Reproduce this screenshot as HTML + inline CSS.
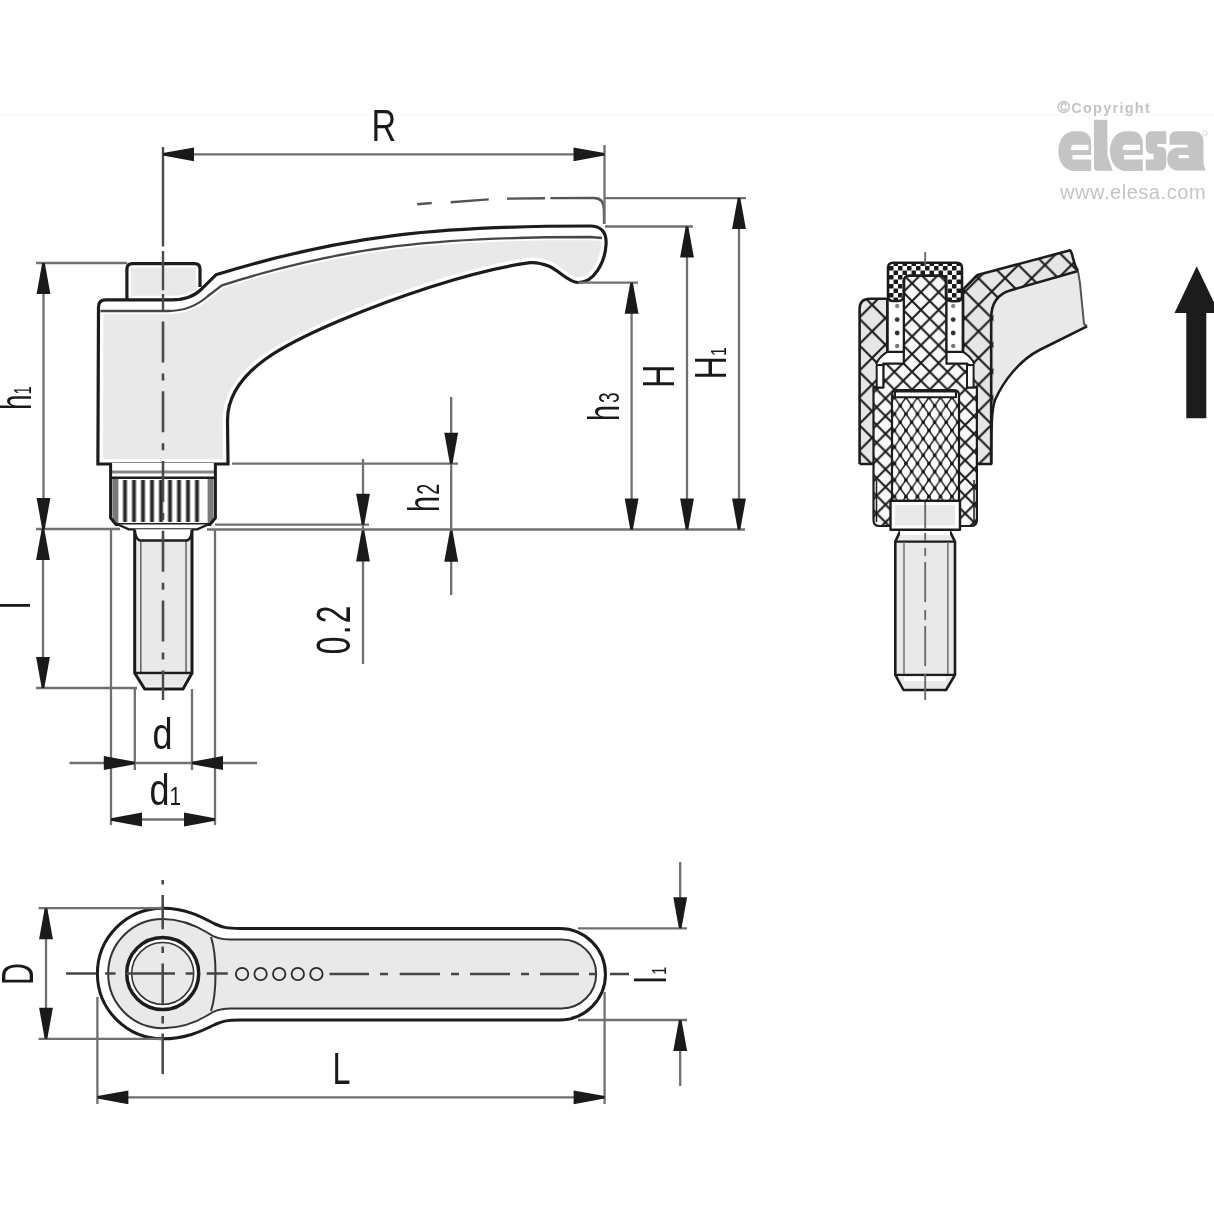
<!DOCTYPE html>
<html><head><meta charset="utf-8"><style>
html,body{margin:0;padding:0;background:#fff;width:1214px;height:1214px;overflow:hidden}
svg{display:block;filter:blur(0.45px)}
text{font-family:"Liberation Sans",sans-serif}
</style></head><body>
<svg width="1214" height="1214" viewBox="0 0 1214 1214">
<defs>
<pattern id="hB" patternUnits="userSpaceOnUse" width="26.6" height="26.6" patternTransform="translate(872.1,304.8)"><rect width="26.6" height="26.6" fill="#e6e6e6"/><path d="M-26.6,-26.6 L53.2,53.2 M0,-26.6 L53.2,26.6 M-26.6,0 L26.6,53.2 M53.2,-26.6 L-26.6,53.2 M26.6,-26.6 L-26.6,26.6 M53.2,0 L0,53.2" stroke="#1a1a1a" stroke-width="2.1"/></pattern>
<pattern id="hM" patternUnits="userSpaceOnUse" width="17.7" height="17.7" patternTransform="translate(920.9,292.2)"><rect width="17.7" height="17.7" fill="#f8f8f8"/><path d="M-17.7,-17.7 L35.4,35.4 M0,-17.7 L35.4,17.7 M-17.7,0 L17.7,35.4 M35.4,-17.7 L-17.7,35.4 M17.7,-17.7 L-17.7,17.7 M35.4,0 L0,35.4" stroke="#1a1a1a" stroke-width="2.0"/></pattern>
<pattern id="hS" patternUnits="userSpaceOnUse" width="11.5" height="16.5" patternTransform="translate(900.2,438.7)"><rect width="11.5" height="16.5" fill="#fff"/><path d="M-11.5,-16.5 L23,33 M0,-16.5 L23,16.5 M-11.5,0 L11.5,33 M23,-16.5 L-11.5,33 M11.5,-16.5 L-11.5,16.5 M23,0 L0,33" stroke="#1a1a1a" stroke-width="1.5"/><circle cx="0" cy="0" r="1.8" fill="#111"/><circle cx="11.5" cy="0" r="1.8" fill="#111"/><circle cx="0" cy="16.5" r="1.8" fill="#111"/><circle cx="11.5" cy="16.5" r="1.8" fill="#111"/><circle cx="5.75" cy="8.25" r="1.8" fill="#111"/></pattern>
<pattern id="hF" patternUnits="userSpaceOnUse" width="9" height="9" patternTransform="translate(889,266)"><rect width="9" height="9" fill="#fff"/><rect x="0" y="0" width="4.5" height="4.5" rx="0.6" fill="#1a1a1a"/><rect x="4.5" y="4.5" width="4.5" height="4.5" rx="0.6" fill="#1a1a1a"/></pattern>
</defs>

<rect x="0" y="114" width="1214" height="2" fill="#fbfbfb"/>
<!-- ============ SIDE VIEW ============ -->
<g id="side">
  <!-- body / lever -->
  <path d="M97.9,464 L98.5,307 Q98.5,299.8 105.5,299.8 L171.7,299.8 C182,299.8 194,297 202,288.6 L215.9,274.8 C346,234.5 440,226 590,226 C601,226 607,232 606,245 C605,262 594,283 578,282.5 C568,282 560,271 548.6,266 C540,262.6 535,262.3 530,262.6 C470,270.8 390,299.25 340,320.5 C290,341.75 227.5,370 227.5,420 L228,464 Z" fill="#e9e9e9" stroke="#fff" stroke-width="10"/>
  <!-- white highlight band -->
  <path d="M98.5,311 L167.8,311 C185,311 198,305 208,296 L222,285.3 C346,245.5 440,237 590,237 L603,238 L605,242 C606,233 601,226 590,226 C440,226 346,234.5 215.9,274.8 L202,288.6 C194,297 182,299.8 171.7,299.8 L105.5,299.8 Q98.5,299.8 98.5,307 Z" fill="#fff"/>
  <path d="M100.5,311 L167.8,311 C185,311 198,305 208,296 L222,285.3 C346,245.5 440,237 590,237 L602,238" fill="none" stroke="#fff" stroke-width="6"/>
  <path d="M100.5,311 L167.8,311 C185,311 198,305 208,296 L222,285.3 C346,245.5 440,237 590,237 L602,238" fill="none" stroke="#464646" stroke-width="2.3"/>
  <!-- cap -->
  <path d="M126.9,299.8 V269 Q126.9,263.6 132.5,263.6 H194.5 Q200,263.6 200,269 V289.5 C194,297 182,299.8 171.7,299.8 Z" fill="#e9e9e9" stroke="#fff" stroke-width="8"/>
  <path d="M126.9,299 L126.9,269 Q126.9,263.6 132.5,263.6 L194.5,263.6 Q200,263.6 200,269 L200,287" fill="none" stroke="#1c1c1c" stroke-width="3.2"/>
  <path d="M97.9,464 L98.5,307 Q98.5,299.8 105.5,299.8 L171.7,299.8 C182,299.8 194,297 202,288.6 L215.9,274.8 C346,234.5 440,226 590,226 C601,226 607,232 606,245 C605,262 594,283 578,282.5 C568,282 560,271 548.6,266 C540,262.6 535,262.3 530,262.6 C470,270.8 390,299.25 340,320.5 C290,341.75 227.5,370 227.5,420 L228,464 Z" fill="none" stroke="#1c1c1c" stroke-width="3.2"/>

  <!-- knurled ring -->
  <path d="M110.6,463 V518 L116,524.5 H210 L215.4,518 V463 Z" fill="#fff"/>
  <rect x="112.4" y="479" width="6" height="44" fill="#7a7a7a"/>
  <rect x="207.6" y="479" width="6" height="44" fill="#7a7a7a"/>
  <g stroke="#2a2a2a" stroke-width="2.9">
    <path d="M125,480 V522 M134,480 V522 M143,480 V522 M152,480 V522 M161,480 V522 M170,480 V522 M179,480 V522 M188,480 V522 M197,480 V522" stroke="#9a9a9a" stroke-width="5"/>
    <path d="M125,480 V522 M134,480 V522 M143,480 V522 M152,480 V522 M161,480 V522 M170,480 V522 M179,480 V522 M188,480 V522 M197,480 V522"/>
  </g>
  <path d="M112,471.9 H214" stroke="#858585" stroke-width="3"/>
  <path d="M112,477.8 H214" stroke="#1c1c1c" stroke-width="2.4"/>
  <path d="M110.6,463 V518 L116,524.5 H210 L215.4,518 V463" fill="none" stroke="#1c1c1c" stroke-width="3"/>
  <path d="M118,524.5 L128.7,529.4 H197.3 L208,524.5" fill="#fff" stroke="#1c1c1c" stroke-width="2.4"/>

  <!-- stud -->
  <path d="M134.7,529.4 V673 L144.7,689 H183 L192,673 V529.4 Z" fill="#e9e9e9"/>
  <path d="M134.7,529.4 V531 Q136,540.5 141,540.5 H186 Q191,540.5 192,531 V529.4 Z" fill="#fff"/>
  <path d="M134.7,673 L144.7,689 H183 L192,673 Z" fill="#fff" stroke="none"/>
  <path d="M137,675 L145.5,686.5 H182 L189.5,675 Z" fill="#e9e9e9"/>
  <path d="M140.8,541 V673 M186,541 V673" stroke="#6a6a6a" stroke-width="1.6"/>
  <path d="M134.7,531 Q136,540.5 141,540.5 H186 Q191,540.5 192,531" fill="none" stroke="#1c1c1c" stroke-width="2.4"/>
  <path d="M134.7,529.4 V673 L144.7,689 H183 L192,673 V529.4" fill="none" stroke="#1c1c1c" stroke-width="3"/>
  <path d="M134.7,673 H192" stroke="#1c1c1c" stroke-width="2.4"/>

  <!-- centre line -->
  <path d="M163,147 V246.4 M163,251 V290.2 M163,294 V310.6" stroke="#4a4a4a" stroke-width="2.4"/>
  <path d="M163,321.4 V672" stroke="#4a4a4a" stroke-width="2.6" stroke-dasharray="41 11 7 10.8"/>
  <path d="M163,672 V700" stroke="#4a4a4a" stroke-width="2.4"/>

  <!-- dashed alt position -->
  <path d="M417.2,204.3 L431.7,203 M450.7,202.2 L488.8,199.4 M507,198.6 L545,198.2 M550.4,198.1 L594,198 C601,198 604,203 604,210 L604,224" fill="none" stroke="#555" stroke-width="2.4"/>
</g>

<!-- ============ DIMENSIONS (side) ============ -->
<g id="dims" stroke="#707070" stroke-width="2.3" fill="none">
  <!-- R -->
  <path d="M163,154.3 H604.5 M604.5,145 V224"/>
  <!-- h1 -->
  <path d="M36,263 H127 M43.5,263 V529 M36,529 H120"/>
  <!-- l -->
  <path d="M43,529 V688 M36,688 H137"/>
  <!-- base line right -->
  <path d="M207,529.5 H745"/>
  <path d="M215,524.7 H369"/>
  <!-- h2 -->
  <path d="M232,463.7 H458 M451.2,397 V595"/>
  <!-- 0.2 -->
  <path d="M363,459 V664"/>
  <!-- h3 H H1 -->
  <path d="M578,282.7 H638 M631.6,282.7 V529.5"/>
  <path d="M605,226.5 H693 M687,226.5 V529.5"/>
  <path d="M605,198.1 H746 M739,198.1 V529.5"/>
  <!-- d, d1 -->
  <path d="M134.8,689 V770 M192,689 V770 M69.5,763 H257"/>
  <path d="M111,529 V825 M215,529 V825 M111,819.5 H215"/>
</g>
<g id="arrows">
  <path d="M163.00,155.60 L163.00,153.00 L194.00,147.40 L194.00,161.20 Z" fill="#1a1a1a"/>
  <path d="M604.50,153.00 L604.50,155.60 L573.50,161.20 L573.50,147.40 Z" fill="#1a1a1a"/>
  <path d="M42.20,263.00 L44.80,263.00 L50.40,294.00 L36.60,294.00 Z" fill="#1a1a1a"/>
  <path d="M44.80,529.00 L42.20,529.00 L36.60,498.00 L50.40,498.00 Z" fill="#1a1a1a"/>
  <path d="M41.70,529.00 L44.30,529.00 L49.90,560.00 L36.10,560.00 Z" fill="#1a1a1a"/>
  <path d="M44.30,688.00 L41.70,688.00 L36.10,657.00 L49.90,657.00 Z" fill="#1a1a1a"/>
  <path d="M452.50,463.70 L449.90,463.70 L444.30,432.70 L458.10,432.70 Z" fill="#1a1a1a"/>
  <path d="M449.90,530.80 L452.50,530.80 L458.10,561.80 L444.30,561.80 Z" fill="#1a1a1a"/>
  <path d="M364.30,524.70 L361.70,524.70 L356.10,493.70 L369.90,493.70 Z" fill="#1a1a1a"/>
  <path d="M361.70,530.40 L364.30,530.40 L369.90,561.40 L356.10,561.40 Z" fill="#1a1a1a"/>
  <path d="M630.30,282.70 L632.90,282.70 L638.50,313.70 L624.70,313.70 Z" fill="#1a1a1a"/>
  <path d="M632.90,529.50 L630.30,529.50 L624.70,498.50 L638.50,498.50 Z" fill="#1a1a1a"/>
  <path d="M685.70,226.50 L688.30,226.50 L693.90,257.50 L680.10,257.50 Z" fill="#1a1a1a"/>
  <path d="M688.30,529.50 L685.70,529.50 L680.10,498.50 L693.90,498.50 Z" fill="#1a1a1a"/>
  <path d="M737.70,198.10 L740.30,198.10 L745.90,229.10 L732.10,229.10 Z" fill="#1a1a1a"/>
  <path d="M740.30,529.50 L737.70,529.50 L732.10,498.50 L745.90,498.50 Z" fill="#1a1a1a"/>
  <path d="M134.80,761.70 L134.80,764.30 L103.80,769.90 L103.80,756.10 Z" fill="#1a1a1a"/>
  <path d="M192.00,764.30 L192.00,761.70 L223.00,756.10 L223.00,769.90 Z" fill="#1a1a1a"/>
  <path d="M111.00,820.80 L111.00,818.20 L142.00,812.60 L142.00,826.40 Z" fill="#1a1a1a"/>
  <path d="M215.00,818.20 L215.00,820.80 L184.00,826.40 L184.00,812.60 Z" fill="#1a1a1a"/>
</g>

<!-- ============ LABELS ============ -->
<g fill="#1a1a1a" font-size="45">
  <text transform="translate(371.5,140.7) scale(0.76,1)">R</text>
  <text transform="translate(30.5,410) rotate(-90) scale(0.62,1)">h<tspan font-size="24" stroke="none">1</tspan></text>
  <text transform="translate(30,609) rotate(-90) scale(0.72,1)">l</text>
  <text transform="translate(152.5,749.3) scale(0.8,1)">d</text>
  <text transform="translate(149.5,804.6) scale(0.8,1)">d<tspan font-size="26" stroke="none">1</tspan></text>
  <text transform="translate(350,654.2) rotate(-90) scale(0.66,1)" font-size="48" letter-spacing="3.5">0.2</text>
  <text transform="translate(438.5,512) rotate(-90) scale(0.64,1)">h<tspan font-size="31" dx="2" stroke="none">2</tspan></text>
  <text transform="translate(618.5,421) rotate(-90) scale(0.64,1)">h<tspan font-size="30" dx="3" stroke="none">3</tspan></text>
  <text transform="translate(673.5,388) rotate(-90) scale(0.72,1)">H</text>
  <text transform="translate(726,379.5) rotate(-90) scale(0.72,1)">H<tspan font-size="22" stroke="none">1</tspan></text>
  <text transform="translate(33,985) rotate(-90) scale(0.68,1)">D</text>
  <text transform="translate(332.5,1084) scale(0.72,1)">L</text>
  <text transform="translate(666,983.5) rotate(-90) scale(0.72,1)">l<tspan font-size="20" stroke="none" dx="2">1</tspan></text>
</g>

<!-- ============ TOP VIEW (bottom) ============ -->
<g id="top">
  <path d="M162.7,908.2 C185,908.2 200,916 215,924 C222,927 226,928.5 240,928.5 L559.7,928.5 A45.75,45.75 0 0 1 559.7,1020 L240,1020 C226,1020 222,1021.5 215,1024.5 C200,1032 185,1038.8 162.7,1038.8 A65.3,65.3 0 0 1 162.7,908.2 Z" fill="#fff" stroke="#1c1c1c" stroke-width="3"/>
  <!-- inner rim gray -->
  <path d="M162.7,919 C180,919 195,925 208,933 C212,936 218,939.5 230,939.5 L561.7,939.5 A34.45,34.45 0 0 1 561.7,1008.4 L230,1008.4 C218,1008.4 212,1012 208,1015 C195,1023 180,1028.2 162.7,1028.2 A54.6,54.6 0 0 1 162.7,919 Z" fill="#e9e9e9" stroke="#333" stroke-width="2"/>
  <path d="M211,937 C217,955 217,993 211,1011" fill="none" stroke="#333" stroke-width="2"/>
  <circle cx="162.7" cy="973.5" r="36" fill="#fff" stroke="#1c1c1c" stroke-width="3.5"/>
  <circle cx="162.7" cy="973.5" r="31" fill="#e9e9e9" stroke="#333" stroke-width="1.6"/>
  <g fill="none" stroke="#2a2a2a" stroke-width="1.8">
    <circle cx="242.1" cy="974" r="6.2"/><circle cx="260.6" cy="974" r="6.2"/><circle cx="279.2" cy="974" r="6.2"/><circle cx="297.8" cy="974" r="6.2"/><circle cx="316.4" cy="974" r="6.2"/>
  </g>
  <g stroke="#464646" stroke-width="2.5" fill="none">
    <path d="M66,973.5 H96.3 M105,973.5 H115.6 M125,973.5 H175 M185.6,973.5 H193.5 M206.7,973.5 H227.8"/>
    <path d="M329.5,974 H369 M380,974 H388 M399.7,974 H440 M451,974 H459 M470,974 H510 M521,974 H529 M540,974 H579 M589,974 H597 M610,974 H629"/>
    <path d="M162.7,880 V884.6 M162.7,895 V929.3 M162.7,946.4 V953 M162.7,963.6 V1004.5 M162.7,1016 V1023.6 M162.7,1033.5 V1074"/>
  </g>
</g>
<g stroke="#707070" stroke-width="2.3" fill="none">
  <path d="M38.5,908.2 H162 M38.5,1038.8 H162 M46,908.2 V1038.8"/>
  <path d="M97.4,997 V1104 M604.6,992 V1104 M97.4,1097.3 H604.6"/>
  <path d="M578,928.3 H687 M578,1020 H687 M680.2,862 V928.3 M680.2,1020 V1086"/>
</g>
<path d="M44.70,908.20 L47.30,908.20 L52.90,939.20 L39.10,939.20 Z" fill="#1a1a1a"/>
<path d="M47.30,1038.80 L44.70,1038.80 L39.10,1007.80 L52.90,1007.80 Z" fill="#1a1a1a"/>
<path d="M97.40,1098.60 L97.40,1096.00 L128.40,1090.40 L128.40,1104.20 Z" fill="#1a1a1a"/>
<path d="M604.60,1096.00 L604.60,1098.60 L573.60,1104.20 L573.60,1090.40 Z" fill="#1a1a1a"/>
<path d="M681.50,928.30 L678.90,928.30 L673.30,897.30 L687.10,897.30 Z" fill="#1a1a1a"/>
<path d="M678.90,1020.00 L681.50,1020.00 L687.10,1051.00 L673.30,1051.00 Z" fill="#1a1a1a"/>

<!-- ============ SECTION VIEW ============ -->
<g id="section" stroke-linejoin="round">
  <!-- outer body + arm (big hatch) -->
  <path d="M859.6,464 V309 Q859.6,298.8 870,298.8 H888 V268 Q888,262.7 893,262.7 H957 Q962,262.7 962,268 V290.7 L977.4,275 L1070.2,250.3 C1074,256 1072,262 1078,271 L1080,283.4 L1084,323.9 L1087,326.3 L1039.5,350 C1020,360 1004,380 995,400 C992,408 991.2,420 991.2,464 Z" fill="url(#hB)"/>
  <!-- arm gray interior -->
  <path d="M993.5,406 V318 C993.5,302 999,295 1010,291.5 L1078.5,272 L1080,283.4 L1084,323.9 L1087,326.3 L1039.5,350 C1020,360 1004,380 993.5,406 Z" fill="#e9e9e9"/>
  <path d="M991.2,464 V318 C991.2,302 998,294 1010,290.4 L1078,271" fill="none" stroke="#1c1c1c" stroke-width="2.6"/>
  <path d="M1078,271 L1080,283.4 L1084,323.9 L1087,326.3" fill="none" stroke="#555" stroke-width="2"/>
  <!-- white ledges -->
  <path d="M887.3,351.9 H903.8 V364 H876 Q880,356 887.3,351.9 Z M963,351.9 H946.5 V364 H974.5 Q970.5,356 963,351.9 Z" fill="#fff"/>
  <path d="M887.3,351.9 Q880,356 876,364 M963,351.9 Q970.5,356 974.5,364" fill="none" stroke="#1c1c1c" stroke-width="2.2"/>
  <!-- mid hatch core + ring -->
  <path d="M903.8,276 H946.5 V363.7 H967.5 V387.4 H976.9 V520 Q976.9,526 971,526 H879 Q873.5,526 873.5,520 V387.4 H883.3 V363.7 H903.8 Z" fill="url(#hM)" stroke="#1c1c1c" stroke-width="2.2"/>
  <path d="M887.3,351.9 H903.8 M946.5,351.9 H963" stroke="#1c1c1c" stroke-width="2.2"/>
  <!-- slots -->
  <rect x="876.7" y="365" width="6.6" height="22.4" fill="#fff" stroke="#1c1c1c" stroke-width="2"/>
  <rect x="967" y="365" width="6.6" height="22.4" fill="#fff" stroke="#1c1c1c" stroke-width="2"/>
  <path d="M876.5,480 V522 M974,480 V522" stroke="#1c1c1c" stroke-width="1.5"/>
  <!-- cavities with dots -->
  <rect x="887.3" y="299" width="16.5" height="52.9" fill="#fff" stroke="#1c1c1c" stroke-width="2.2"/>
  <rect x="946.5" y="299" width="16.5" height="52.9" fill="#fff" stroke="#1c1c1c" stroke-width="2.2"/>
  <g fill="#333"><circle cx="897.2" cy="306" r="2.2" fill="#888"/><circle cx="897.2" cy="319.6" r="2.4"/><circle cx="897.2" cy="333" r="2.4"/><circle cx="897.2" cy="346" r="2.2" fill="#777"/><circle cx="953.2" cy="306" r="2.2" fill="#888"/><circle cx="953.2" cy="319.6" r="2.4"/><circle cx="953.2" cy="333" r="2.4"/><circle cx="953.2" cy="346" r="2.2" fill="#777"/></g>
  <!-- cap fine hatch -->
  <path d="M888,296 V268 Q888,262.7 893,262.7 H957 Q962,262.7 962,268 V296 Q962,301.3 956,301.3 H952 Q946,301.3 946,295 V281 Q946,275.6 940,275.6 H910 Q904,275.6 904,281 V295 Q904,301 898,301 H893 Q888,301 888,296 Z" fill="url(#hF)" stroke="#1c1c1c" stroke-width="2.6"/>
  <!-- insert small hatch -->
  <path d="M892,500.9 V395 Q892,390 897,390 H954 Q959,390 959,395 V500.9 Z" fill="url(#hS)" stroke="#1c1c1c" stroke-width="2.2"/>
  <rect x="895" y="391.5" width="61" height="5.8" fill="#fff" stroke="#1c1c1c" stroke-width="2"/>
  <!-- nut -->
  <rect x="890.5" y="500.9" width="69.5" height="28.9" fill="#fff" stroke="#1c1c1c" stroke-width="2.4"/>
  <rect x="895" y="505" width="60" height="20.5" fill="#e9e9e9"/>
  <!-- stud -->
  <path d="M895.3,541.6 L900,531.6 H950 L955,541.6 V674.8 L946,690 H903.5 L895.3,674.8 Z" fill="#e9e9e9" stroke="#1c1c1c" stroke-width="2.6"/>
  <path d="M895.3,541.6 H955 M895.3,674.8 H955" stroke="#1c1c1c" stroke-width="2.2"/>
  <path d="M904,542 V674 M947.8,542 V674" stroke="#777" stroke-width="1.6"/>
  <path d="M900,533 H950" stroke="#fff" stroke-width="4"/>
  <path d="M904,679 H946" stroke="#fff" stroke-width="4"/>
  <!-- outer outline -->
  <path d="M859.6,464 V309 Q859.6,298.8 870,298.8 H888 M962,290.7 L977.4,275 L1070.2,250.3 C1074,256 1072,262 1078,271 M1087,326.3 L1039.5,350 C1020,360 1004,380 995,400 C992,408 991.2,420 991.2,464 H978 M859.6,464 H873.5 M887.3,298.8 V351.9 M963,290 V351.9" fill="none" stroke="#1c1c1c" stroke-width="2.6"/>
  <!-- centre line -->
  <path d="M925.2,252 V266 M925.2,502 V529 M925.2,533 V541 M925.2,548 V556 M925.2,562 V602 M925.2,610 V620 M925.2,626 V666 M925.2,674 V700" stroke="#666" stroke-width="1.8"/>
</g>

<!-- ============ BIG ARROW ============ -->
<path d="M1196.7,266.3 L1219,313 L1206.3,313 L1206.3,418.3 L1186.3,418.3 L1186.3,313 L1174.5,313 Z" fill="#1c1c1c"/>

<!-- ============ LOGO ============ -->
<g fill="#c4c4c4">
  <text x="1057.5" y="112.8" font-size="14.5" font-weight="bold" letter-spacing="1.25"><tspan font-size="17" font-weight="normal" stroke="#c4c4c4" stroke-width="0.6">©</tspan>Copyright</text>
  <path fill-rule="evenodd" d="M1075,131.2 H1080 C1087,131.2 1091.2,136 1091.2,143 V155 H1072.5 V159.6 H1091.2 V171 H1075 C1065,171 1058.4,163 1058.4,151 C1058.4,139 1065,131.2 1075,131.2 Z M1073.5,144.7 H1088.5 V150.1 H1071 C1071,147 1072,144.7 1073.5,144.7 Z"/>
  <path d="M1093.9,119.7 H1107.4 V155.5 L1112.8,170.8 H1097 Q1093.9,170.8 1093.9,167 Z"/>
  <path fill-rule="evenodd" transform="translate(51.6,0)" d="M1075,131.2 H1080 C1087,131.2 1091.2,136 1091.2,143 V155 H1072.5 V159.6 H1091.2 V171 H1075 C1065,171 1058.4,163 1058.4,151 C1058.4,139 1065,131.2 1075,131.2 Z M1073.5,144.7 H1088.5 V150.1 H1071 C1071,147 1072,144.7 1073.5,144.7 Z"/>
  <path d="M1152,131.2 H1166.3 V143.9 H1157.3 V146.8 H1160 C1164,146.8 1166.3,149 1166.3,153 V164 C1166.3,168 1164,170.6 1160,170.6 H1145.8 V159.6 H1153.6 V153.8 H1152 C1148,153.8 1145.8,151 1145.8,147 V137.5 C1145.8,133.5 1148,131.2 1152,131.2 Z"/>
  <path fill-rule="evenodd" d="M1176,131.2 H1193 C1200,131.2 1203.5,135 1203.5,142 V164 L1205.7,170.6 H1179 C1171.5,170.6 1167.2,166 1167.2,159 C1167.2,152 1171.5,147.4 1179,147.4 H1187.5 V144.7 H1169.5 V138 C1169.5,134 1172,131.2 1176,131.2 Z M1178.7,154.9 H1188.8 V158.2 H1178.7 Z"/>
  <circle cx="1205" cy="133" r="2.2" fill="none" stroke="#d4d4d4" stroke-width="1"/>
  <text x="1060" y="198.8" font-size="20" letter-spacing="0.55">www.elesa.com</text>
</g>
</svg>
</body></html>
